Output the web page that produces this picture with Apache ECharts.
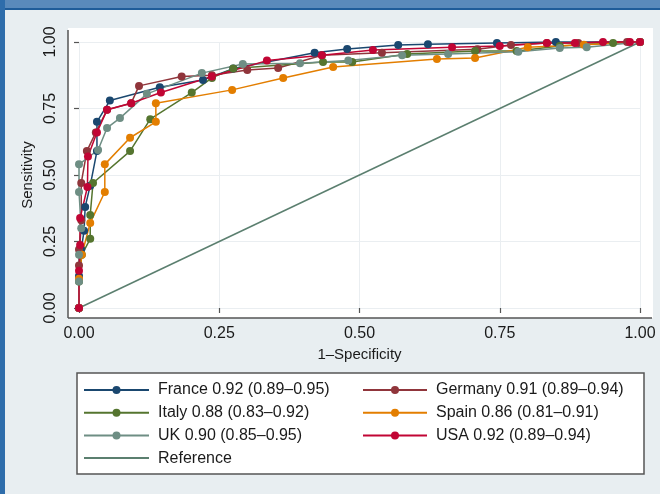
<!DOCTYPE html>
<html><head><meta charset="utf-8">
<script src="https://cdn.jsdelivr.net/npm/echarts@6/dist/echarts.min.js"></script>
<style>html,body{margin:0;padding:0;background:#e8eef1}#c{width:660px;height:494px}</style>
</head><body><div id="c"></div>
<script>
// ---- data ----
const seriesNames = [
  'France 0.92 (0.89–0.95)',
  'Germany 0.91 (0.89–0.94)',
  'Italy 0.88 (0.83–0.92)',
  'Spain 0.86 (0.81–0.91)',
  'UK 0.90 (0.85–0.95)',
  'USA 0.92 (0.89–0.94)',
  'Reference'
];
const seriesColors = ['#1a476f','#90353b','#55752f','#e37e00','#6e8e84','#c10534','#5b7f6f'];
const xTicks = [0, 0.25, 0.5, 0.75, 1];
const yTicks = [0, 0.25, 0.5, 0.75, 1];

const france = [[0,0],[0,0.12],[0.004,0.22],[0.009,0.29],[0.011,0.38],[0.02,0.46],[0.032,0.59],[0.032,0.70],[0.055,0.78],[0.144,0.83],[0.221,0.857],[0.275,0.90],[0.42,0.96],[0.478,0.974],[0.569,0.989],[0.622,0.992],[0.745,0.996],[0.85,1],[1,1]];
const germany = [[0,0],[0,0.16],[0,0.22],[0.004,0.33],[0.004,0.47],[0.014,0.59],[0.03,0.66],[0.05,0.745],[0.093,0.77],[0.107,0.835],[0.183,0.87],[0.237,0.875],[0.30,0.895],[0.355,0.902],[0.433,0.95],[0.54,0.96],[0.71,0.973],[0.77,0.989],[0.834,0.996],[0.89,0.996],[0.977,1],[1,1]];
const italy = [[0,0],[0,0.1],[0.005,0.2],[0.02,0.26],[0.02,0.35],[0.025,0.47],[0.091,0.59],[0.127,0.71],[0.201,0.81],[0.237,0.865],[0.275,0.90],[0.435,0.925],[0.487,0.925],[0.585,0.955],[0.706,0.966],[0.78,0.966],[0.857,0.985],[0.952,0.996],[1,1]];
const spain = [[0,0],[0,0.11],[0.005,0.2],[0.02,0.32],[0.046,0.436],[0.046,0.54],[0.091,0.64],[0.137,0.70],[0.137,0.77],[0.273,0.82],[0.364,0.865],[0.453,0.906],[0.638,0.936],[0.706,0.94],[0.80,0.98],[0.9,0.99],[1,1]];
const uk = [[0,0],[0,0.1],[0,0.2],[0.004,0.3],[0,0.436],[0,0.54],[0.034,0.594],[0.05,0.677],[0.073,0.714],[0.121,0.805],[0.219,0.883],[0.292,0.917],[0.394,0.92],[0.48,0.93],[0.576,0.95],[0.658,0.955],[0.783,0.963],[0.857,0.977],[0.905,0.98],[1,1]];
const usa = [[0,0],[0,0.14],[0.002,0.237],[0.002,0.338],[0.015,0.455],[0.016,0.57],[0.032,0.66],[0.05,0.745],[0.093,0.77],[0.146,0.81],[0.237,0.87],[0.335,0.93],[0.433,0.95],[0.524,0.97],[0.665,0.98],[0.75,0.985],[0.834,0.996],[0.884,0.996],[0.934,1],[0.982,1],[1,1]];
const reference = [[0,0],[1,1]];

const curves = [france, germany, italy, spain, uk, usa];

// ---- chart ----
const chart = echarts.init(document.getElementById('c'), null, {renderer:'canvas'});
const FONT = 'Liberation Sans, Arial, Helvetica, sans-serif';

const series = curves.map((d, i) => ({
  name: seriesNames[i],
  type: 'line',
  data: d,
  clip: false,
  symbol: 'circle',
  symbolSize: 8,
  showSymbol: true,
  color: seriesColors[i],
  lineStyle: {width: 1.5, color: seriesColors[i]},
  itemStyle: {color: seriesColors[i]},
  emphasis: {disabled: true},
  animation: false
}));
series.push({
  name: seriesNames[6],
  type: 'line',
  data: reference,
  clip: false,
  symbol: 'none',
  color: seriesColors[6],
  lineStyle: {width: 1.5, color: seriesColors[6]},
  emphasis: {disabled: true},
  animation: false
});

const legendText = {fontFamily: FONT, fontSize: 16, color: '#1a1a1a', padding: [0,0,0,4]};

chart.setOption({
  backgroundColor: '#e8eef1',
  animation: false,
  graphic: [
    {type:'rect', z:-100, shape:{x:0,y:0,width:660,height:8}, style:{fill:'#5a8abb'}},
    {type:'rect', z:-100, shape:{x:0,y:8,width:660,height:2}, style:{fill:'#1f5c99'}},
    {type:'rect', z:-100, shape:{x:0,y:0,width:5,height:494}, style:{fill:'#2e6dab'}},
    {type:'rect', z:-100, shape:{x:68,y:28,width:585,height:290}, style:{fill:'#ffffff'}},
    {type:'line', z:50, shape:{x1:68,y1:30,x2:68,y2:318}, style:{stroke:'#555',lineWidth:1.5}},
    {type:'line', z:50, shape:{x1:68,y1:318,x2:652,y2:318}, style:{stroke:'#555',lineWidth:1.5}},
    {type:'rect', z:-100, shape:{x:77,y:373,width:567,height:101}, style:{fill:'#ffffff',stroke:'#555',lineWidth:1.5}}
  ],
  grid: {left: 79, right: 20, top: 42, bottom: 186, containLabel: false},
  xAxis: {
    type: 'value', min: 0, max: 1, interval: 0.25, offset: 10,
    name: '1–Specificity', nameLocation: 'middle', nameGap: 28,
    nameTextStyle: {fontFamily: FONT, fontSize: 15, color: '#1a1a1a'},
    axisLine: {show: false},
    axisTick: {show: true, length: 5, lineStyle: {color: '#555', width: 1.2}},
    axisLabel: {fontFamily: FONT, fontSize: 16, color: '#1a1a1a', margin: 8,
      formatter: v => v.toFixed(2)},
    splitLine: {show: true, lineStyle: {color: '#eaeef1', width: 1}}
  },
  yAxis: {
    type: 'value', min: 0, max: 1, interval: 0.25, offset: 11,
    name: 'Sensitivity', nameLocation: 'middle', nameGap: 31,
    nameTextStyle: {fontFamily: FONT, fontSize: 15, color: '#1a1a1a'},
    axisLine: {show: false},
    axisTick: {show: true, length: 5, lineStyle: {color: '#555', width: 1.2}},
    axisLabel: {fontFamily: FONT, fontSize: 16, color: '#1a1a1a', margin: 9, rotate: 90,
      formatter: v => v.toFixed(2)},
    splitLine: {show: true, lineStyle: {color: '#eaeef1', width: 1}}
  },
  legend: [
    {
      data: [seriesNames[0], seriesNames[2], seriesNames[4],
             {name: seriesNames[6], itemStyle: {opacity: 0}}],
      orient: 'vertical', left: 83, top: 382, padding: 0,
      itemWidth: 65, itemHeight: 10, itemGap: 6.7,
      textStyle: legendText, selectedMode: false
    },
    {
      data: [seriesNames[1], seriesNames[3], seriesNames[5]],
      orient: 'vertical', left: 362, top: 382, padding: 0,
      itemWidth: 64, itemHeight: 10, itemGap: 6.7,
      textStyle: legendText, selectedMode: false
    }
  ],
  series: series
});
</script></body></html>
